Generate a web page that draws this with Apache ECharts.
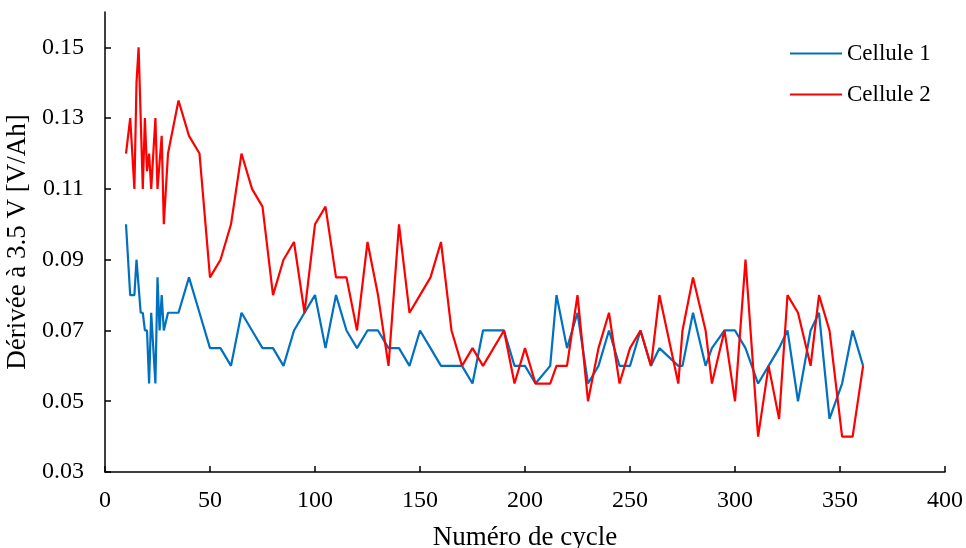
<!DOCTYPE html>
<html>
<head>
<meta charset="utf-8">
<script src="https://cdn.jsdelivr.net/npm/echarts@6/dist/echarts.min.js"></script>
<style>html,body{margin:0;padding:0;background:#fff}#c{width:966px;height:548px}</style>
</head>
<body>
<div id="c"></div>
<script>
const seriesNames = ['Cellule 1', 'Cellule 2'];
const cycles1 = [10,12,14,15,17,18,19,20,21,22,24,25,26,27,28,30,35,40,45,50,55,60,65,70,75,80,85,90,95,100,105,110,115,120,125,130,135,140,145,150,155,160,165,170,175,180,185,190,195,200,205,212,215,220,225,230,235,240,245,250,255,260,264,273,275,280,286,289,295,300,305,311,316,321,325,330,336,340,345,351,356,361];
const values1 = [0.10,0.08,0.08,0.09,0.075,0.075,0.07,0.07,0.055,0.075,0.055,0.085,0.07,0.08,0.07,0.075,0.075,0.085,0.075,0.065,0.065,0.06,0.075,0.07,0.065,0.065,0.06,0.07,0.075,0.08,0.065,0.08,0.07,0.065,0.07,0.07,0.065,0.065,0.06,0.07,0.065,0.06,0.06,0.06,0.055,0.07,0.07,0.07,0.06,0.06,0.055,0.06,0.08,0.065,0.075,0.055,0.06,0.07,0.06,0.06,0.07,0.06,0.065,0.06,0.06,0.075,0.06,0.065,0.07,0.07,0.065,0.055,0.06,0.065,0.07,0.05,0.07,0.075,0.045,0.055,0.07,0.06];
const cycles2 = [10,12,14,15,16,18,19,20,21,22,24,25,27,28,30,35,40,45,50,55,60,65,70,75,80,85,90,95,100,105,110,115,120,125,130,135,140,145,150,155,160,165,170,175,180,190,195,200,205,212,215,220,225,230,235,240,245,250,255,260,264,273,275,280,286,289,295,300,305,311,316,321,325,330,336,340,345,351,356,361];
const values2 = [0.12,0.13,0.11,0.14,0.15,0.11,0.13,0.115,0.12,0.11,0.13,0.11,0.125,0.10,0.12,0.135,0.125,0.12,0.085,0.09,0.10,0.12,0.11,0.105,0.08,0.09,0.095,0.075,0.10,0.105,0.085,0.085,0.07,0.095,0.08,0.06,0.10,0.075,0.08,0.085,0.095,0.07,0.06,0.065,0.06,0.07,0.055,0.065,0.055,0.055,0.06,0.06,0.08,0.05,0.065,0.075,0.055,0.065,0.07,0.06,0.08,0.055,0.07,0.085,0.07,0.055,0.07,0.05,0.09,0.04,0.06,0.045,0.08,0.075,0.06,0.08,0.07,0.04,0.04,0.06];
const yTicks = [0.03,0.05,0.07,0.09,0.11,0.13,0.15];
const xTicks = [0,50,100,150,200,250,300,350,400];

const font = '"Liberation Serif","Times New Roman",serif';
const chart = echarts.init(document.getElementById('c'), null, {renderer: 'canvas'});
const pair = (xs, ys) => xs.map((x, i) => [x, ys[i]]);
chart.setOption({
  animation: false,
  backgroundColor: '#fff',
  grid: {left: 105, right: 21, top: 12, bottom: 76, containLabel: false, outerBoundsMode: 'none'},
  legend: {
    left: 785, top: 37, orient: 'vertical', itemGap: 18,
    icon: 'rect', itemWidth: 52, itemHeight: 2,
    textStyle: {fontFamily: font, fontSize: 23, color: '#000'},
    data: seriesNames
  },
  xAxis: {
    type: 'value', min: xTicks[0], max: xTicks[xTicks.length - 1], interval: 50,
    name: 'Numéro de cycle', nameLocation: 'middle', nameGap: 52,
    nameTextStyle: {fontFamily: font, fontSize: 27, color: '#000'},
    axisLine: {show: true, lineStyle: {color: '#000', width: 1.5}},
    axisTick: {show: true, inside: true, length: 6, lineStyle: {color: '#000', width: 1.5}},
    axisLabel: {fontFamily: font, fontSize: 24, color: '#000', margin: 17},
    splitLine: {show: false}
  },
  yAxis: {
    type: 'value', min: 0.03, max: 0.16, interval: 0.02,
    name: 'Dérivée à 3.5 V [V/Ah]', nameLocation: 'middle', nameGap: 67,
    nameTextStyle: {fontFamily: font, fontSize: 27, color: '#000'},
    axisLine: {show: true, lineStyle: {color: '#000', width: 1.5}},
    axisTick: {show: true, inside: true, length: 6, lineStyle: {color: '#000', width: 1.5}, customValues: yTicks},
    axisLabel: {fontFamily: font, fontSize: 24, color: '#000', margin: 21, customValues: yTicks,
      formatter: v => v.toFixed(2)},
    splitLine: {show: false}
  },
  series: [
    {name: seriesNames[0], type: 'line', data: pair(cycles1, values1), showSymbol: false, symbol: 'none',
     lineStyle: {color: '#0070C0', width: 2.2}, itemStyle: {color: '#0070C0'}},
    {name: seriesNames[1], type: 'line', data: pair(cycles2, values2), showSymbol: false, symbol: 'none',
     lineStyle: {color: '#FF0000', width: 2.2}, itemStyle: {color: '#FF0000'}}
  ]
});
</script>
</body>
</html>
